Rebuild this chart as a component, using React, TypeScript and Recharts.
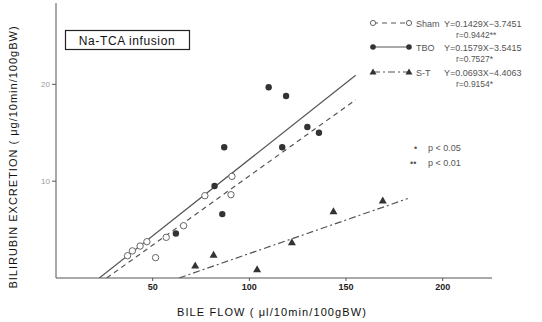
import React from 'react'
import { ComposedChart, Scatter, Line, XAxis, YAxis } from 'recharts'

// bile flow (x) vs bilirubin excretion (y)
const shamX = [37, 39.5, 43.5, 47, 51.5, 57, 66, 77, 90.5, 91]
const shamY = [2.3, 2.8, 3.3, 3.75, 2.1, 4.2, 5.4, 8.5, 8.6, 10.5]

const tboX = [62, 82, 86, 87, 110, 117, 119, 130, 136]
const tboY = [4.6, 9.5, 6.6, 13.5, 19.7, 13.5, 18.8, 15.6, 15.0]

const stX = [72, 81.5, 104, 122, 143.5, 169]
const stY = [1.3, 2.4, 0.9, 3.7, 6.9, 8.0]

// regression lines Y = a X + b, drawn over [from, to]
const groups = ['Sham', 'TBO', 'S-T']
const slopes = [0.1429, 0.1579, 0.0693]
const intercepts = [-3.7451, -3.5415, -4.4063]
const lineFrom = [26.2, 22.4, 63.6]
const lineTo = [155, 155, 182]
const equations = ['Y=0.1429X\u22123.7451', 'Y=0.1579X\u22123.5415', 'Y=0.0693X\u22124.4063']
const rValues = ['r=0.9442**', 'r=0.7527*', 'r=0.9154*']

const xTicks = [50, 100, 150, 200]
const yTicks = [10, 20]

const toPoints = (xs: number[], ys: number[]) => xs.map((x, i) => ({ x, y: ys[i] }))
const fitLine = (i: number) => [lineFrom[i], lineTo[i]].map((x) => ({ x, y: slopes[i] * x + intercepts[i] }))

const ink = '#333'
const font = '"Liberation Sans", Arial, sans-serif'

const OpenDot = (p: any) => <circle cx={p.cx} cy={p.cy} r={3.2} fill="#fff" stroke="#666" strokeWidth={1} />
const FilledDot = (p: any) => <circle cx={p.cx} cy={p.cy} r={3.2} fill={ink} />
const Tri = (p: any) => (
  <polygon points={`${p.cx},${p.cy - 4} ${p.cx - 4},${p.cy + 3} ${p.cx + 4},${p.cy + 3}`} fill={ink} />
)

const dashes = ['5 4', undefined, '7 3 2 3']

const LegendSymbol = ({ i, x, y }: { i: number; x: number; y: number }) => {
  const w = 36
  return (
    <g>
      <line x1={x} y1={y} x2={x + w} y2={y} stroke="#555" strokeWidth={1.1} strokeDasharray={dashes[i]} />
      {[x, x + w].map((cx) =>
        i === 0 ? (
          <circle key={cx} cx={cx} cy={y} r={2.6} fill="#fff" stroke="#666" />
        ) : i === 1 ? (
          <circle key={cx} cx={cx} cy={y} r={2.8} fill={ink} />
        ) : (
          <polygon key={cx} points={`${cx},${y - 3.5} ${cx - 3.5},${y + 2.5} ${cx + 3.5},${y + 2.5}`} fill={ink} />
        )
      )}
    </g>
  )
}

export default function App() {
  const rowY = [23, 47, 72]
  return (
    <div style={{ position: 'absolute', left: 0, top: 0, width: 542, height: 322, background: '#fff' }}>
      <ComposedChart width={542} height={322} margin={{ top: 3, right: 50, left: 0, bottom: 20 }}>
        <XAxis
          type="number"
          dataKey="x"
          domain={[0, 225.5]}
          ticks={xTicks}
          height={24}
          tickSize={3}
          tickMargin={3}
          stroke="#555"
          tick={{ fill: '#222', fontSize: 9, fontFamily: font, fontWeight: 700 }}
          allowDataOverflow
        />
        <YAxis
          type="number"
          dataKey="y"
          domain={[0, 28.4]}
          ticks={yTicks}
          width={56}
          tickSize={4}
          tickMargin={2}
          stroke="#555"
          tick={{ fill: '#999', fontSize: 8, fontFamily: font }}
          allowDataOverflow
        />
        <Line data={fitLine(1)} dataKey="y" stroke="#555" strokeWidth={1.2} dot={false} isAnimationActive={false} />
        <Line data={fitLine(0)} dataKey="y" stroke="#555" strokeWidth={1.2} strokeDasharray={dashes[0]} dot={false} isAnimationActive={false} />
        <Line data={fitLine(2)} dataKey="y" stroke="#555" strokeWidth={1.2} strokeDasharray={dashes[2]} dot={false} isAnimationActive={false} />
        <Scatter data={toPoints(shamX, shamY)} shape={OpenDot} isAnimationActive={false} />
        <Scatter data={toPoints(tboX, tboY)} shape={FilledDot} isAnimationActive={false} />
        <Scatter data={toPoints(stX, stY)} shape={Tri} isAnimationActive={false} />
      </ComposedChart>
      <svg width={542} height={322} style={{ position: 'absolute', left: 0, top: 0, pointerEvents: 'none' }} fontFamily={font}>
        <rect x={65.5} y={30.5} width={124} height={19} fill="#fff" stroke="#222" strokeWidth={1.2} />
        <text x={127} y={44.5} textAnchor="middle" fontSize={12} letterSpacing={0.6} fill="#111">Na-TCA infusion</text>
        {groups.map((g, i) => (
          <g key={g}>
            <LegendSymbol i={i} x={373} y={rowY[i]} />
            <text x={416} y={rowY[i] + 3.5} fontSize={9} fill="#555">{g}</text>
            <text x={444} y={rowY[i] + 3.5} fontSize={9} fill="#555">{equations[i]}</text>
            <text x={456} y={rowY[i] + 15} fontSize={8.5} fill="#555">{rValues[i]}</text>
          </g>
        ))}
        <text x={414} y={151} fontSize={9} fill="#555">{'\u2022'}</text>
        <text x={428} y={151} fontSize={9} fill="#555">{'p < 0.05'}</text>
        <text x={410} y={166} fontSize={9} fill="#555">{'\u2022\u2022'}</text>
        <text x={428} y={166} fontSize={9} fill="#555">{'p < 0.01'}</text>
        <text
          transform="translate(17,157) rotate(-90)"
          textAnchor="middle"
          fontSize={11}
          letterSpacing={1}
          fill="#111"
        >
          BILIRUBIN EXCRETION ( μg/10min/100gBW)
        </text>
        <text x={272} y={316} textAnchor="middle" fontSize={11} letterSpacing={1.1} fill="#111">
          BILE FLOW ( μl/10min/100gBW)
        </text>
      </svg>
    </div>
  )
}
